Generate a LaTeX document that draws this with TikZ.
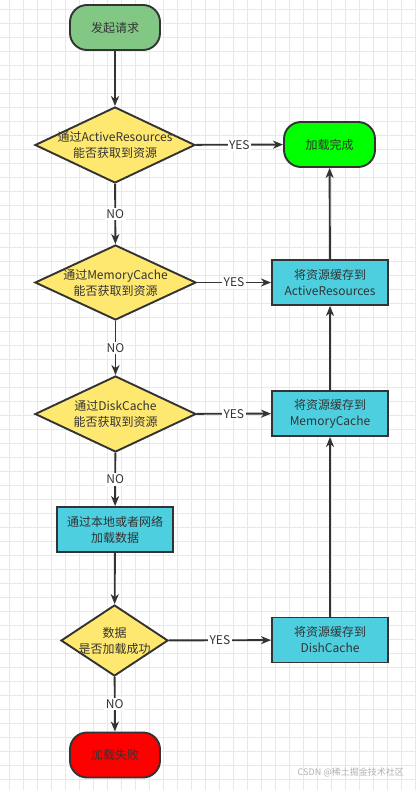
\documentclass[tikz,border=0pt]{standalone}
\usepackage{fontspec}
\setmainfont{Noto Sans CJK SC}
\usetikzlibrary{shapes.geometric,arrows.meta}
\definecolor{gridc}{HTML}{E8E8E8}
\definecolor{ink}{HTML}{333333}
\definecolor{startg}{HTML}{82C784}
\definecolor{decy}{HTML}{FFE870}
\definecolor{procc}{HTML}{4ECFE0}
\definecolor{okg}{HTML}{00FF00}
\definecolor{badr}{HTML}{FF0000}
\tikzset{
  base/.style={draw=ink, line width=1.9pt, inner sep=0pt, text=ink},
  term/.style={base, rounded corners=17pt, minimum width=90pt, minimum height=45pt},
  proc/.style={base, fill=procc, minimum width=116pt, minimum height=45pt},
  dec/.style={base, diamond, fill=decy, aspect=2},
  txt/.style={inner sep=0pt, text=ink, align=center, font=\fontsize{12}{16}\selectfont},
  conn/.style={draw=ink, line width=1.9pt, -{Stealth[length=10pt,width=8pt,inset=3pt]}},
  lab/.style={fill=white, inner sep=1.5pt, text=ink, font=\fontsize{12}{13}\selectfont}
}
\begin{document}
\begin{tikzpicture}[x=1pt,y=-1pt]
\useasboundingbox (0,0) rectangle (416,790);
\fill[white] (0,0) rectangle (416,790);
\foreach \i in {0,...,29} \draw[gridc, line width=0.8pt] (9+14*\i,0) -- (9+14*\i,790);
\foreach \j in {0,...,56} \draw[gridc, line width=0.8pt] (0,9+14*\j) -- (416,9+14*\j);

% left column
\node[term, fill=startg] (start) at (115,27.5) {};
\node[txt] (tstart) at (start) {发起请求};
\node[dec, minimum width=160pt, minimum height=76pt] (d1) at (115,145) {};
\node[txt] (td1) at (d1) {通过ActiveResources\\能否获取到资源};
\node[dec, minimum width=161pt, minimum height=75pt] (d2) at (115.5,282.5) {};
\node[txt] (td2) at (d2) {通过MemoryCache\\能否获取到资源};
\node[dec, minimum width=161pt, minimum height=76pt] (d3) at (115.5,414) {};
\node[txt] (td3) at (d3) {通过DiskCache\\能否获取到资源};
\node[proc] (load) at (115,529.5) {};
\node[txt] (tload) at (load) {通过本地或者网络\\加载数据};
\node[dec, minimum width=107pt, minimum height=71pt] (d4) at (114.5,640.5) {};
\node[txt] (td4) at (d4) {数据\\是否加载成功};
\node[term, fill=badr] (fail) at (115,755) {};
\node[txt] (tfail) at (fail) {加载失败};

% right column
\node[term, fill=okg, minimum width=91pt] (done) at (329.5,144.5) {};
\node[txt] (tdone) at (done) {加载完成};
\node[proc] (pa) at (330,282.5) {};
\node[txt] (tpa) at (pa) {将资源缓存到\\ActiveResources};
\node[proc] (pm) at (330,413.5) {};
\node[txt] (tpm) at (pm) {将资源缓存到\\MemoryCache};
\node[proc] (pd) at (330,640) {};
\node[txt] (tpd) at (pd) {将资源缓存到\\DishCache};

% connectors
\draw[conn] (start) -- (d1);
\draw[conn] (d1) -- node[lab] (n1) {NO} (d2);
\draw[conn] (d2) -- node[lab] (n2) {NO} (d3);
\draw[conn] (d3) -- node[lab] (n3) {NO} (load);
\draw[conn] (load) -- (d4);
\draw[conn] (d4) -- node[lab] (n4) {NO} (fail);
\draw[conn] (d1) -- node[lab] (y1) {YES} (done);
\draw[conn] (d2) -- node[lab] (y2) {YES} (pa);
\draw[conn] (d3) -- node[lab] (y3) {YES} (pm);
\draw[conn] (d4) -- node[lab] (y4) {YES} (pd);
\draw[conn] (pd) -- (pm);
\draw[conn] (pm) -- (pa);
\draw[conn] (pa) -- (done);

% watermark
\node[inner sep=0pt, text=black!30, font=\fontsize{9}{10}\selectfont, anchor=east] (wm) at (404,772) {CSDN @稀土掘金技术社区};
\end{tikzpicture}
\end{document}
